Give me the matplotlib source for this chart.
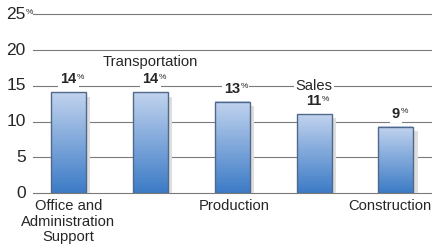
import numpy as np
import matplotlib
matplotlib.use("Agg")
import matplotlib.pyplot as plt
from matplotlib.colors import LinearSegmentedColormap

categories = ["Office and\nAdministration\nSupport", "Transportation", "Production", "Sales", "Construction"]
values = [14.1, 14.1, 12.8, 11.1, 9.3]
value_labels = ["14", "14", "13", "11", "9"]
label_above = [False, True, False, True, False]
yticks = [0, 5, 10, 15, 20, 25]

plt.rcParams['font.family'] = ['Liberation Sans', 'DejaVu Sans']

fig = plt.figure(figsize=(4.32, 2.46), dpi=100)
ax = fig.add_axes([33/432, 53/246, 399/432, 178.7/246])
XMIN, XMAX = -0.433, 4.44
ax.set_xlim(XMIN, XMAX)
ax.set_ylim(0, 25)
for s in ax.spines.values():
    s.set_visible(False)
ax.set_xticks([])
ax.set_yticks([])

txt_c = "#262626"
grid_c = "#7a7a7a"
for t in yticks:
    ax.axhline(t, color=grid_c, lw=0.8, zorder=1, clip_on=False)
    tl = ax.text(XMIN - 0.09, t, str(t), ha="right", va="center", fontsize=12.5,
                 color=txt_c, clip_on=False)
    if t == yticks[-1]:
        ax.annotate("%", xy=(1, 1), xycoords=tl, xytext=(0.3, -1.5), textcoords="offset points",
                    ha="left", va="top", fontsize=6, color=txt_c)

cmap = LinearSegmentedColormap.from_list("g", ["#3c7bc6", "#c0d2ed"])
w = 0.427
xs = np.arange(len(values))
nstrip = 80
for i, (x, v, vl, cat, above) in enumerate(zip(xs, values, value_labels, categories, label_above)):
    ax.add_patch(plt.Rectangle((x - w/2 + 0.05, 0), w, v - 0.6, color="#dedede", zorder=2, lw=0))
    edges = np.linspace(0, v, nstrip + 1)
    for k in range(nstrip):
        ax.add_patch(plt.Rectangle((x - w/2, edges[k]), w, edges[k+1] - edges[k] + 0.01,
                                   color=cmap(k / (nstrip - 1)), lw=0, zorder=3))
    ax.add_patch(plt.Rectangle((x - w/2, 0), w, v, fill=False, ec="#52688a", lw=1.0, zorder=4))
    t = ax.text(x, v + 0.8, vl, ha="center", va="bottom", fontsize=10.5, fontweight="bold",
                color=txt_c, zorder=5)
    t.set_bbox(dict(facecolor="white", edgecolor="none", pad=1.5))
    ax.annotate("%", xy=(1, 1), xycoords=t, xytext=(0.3, -1.2), textcoords="offset points",
                ha="left", va="top", fontsize=6, color=txt_c, zorder=6,
                bbox=dict(facecolor="white", edgecolor="none", pad=0.5))
    if above:
        off = 3.2 if i == 1 else 2.95
        ax.text(x, v + off, cat, ha="center", va="bottom", fontsize=10.6, color=txt_c,
                zorder=5, bbox=dict(facecolor="white", edgecolor="none", pad=1.0))
    elif i == len(values) - 1:
        ax.text(XMAX - 0.01, -0.9, cat, ha="right", va="top", fontsize=10.6, color=txt_c,
                clip_on=False)
    else:
        ax.text(x + (0.03 if i == 2 else 0), -0.9, cat, ha="center", va="top", fontsize=10.6,
                color=txt_c, linespacing=1.1, clip_on=False)

fig.savefig("out.png", dpi=100)
